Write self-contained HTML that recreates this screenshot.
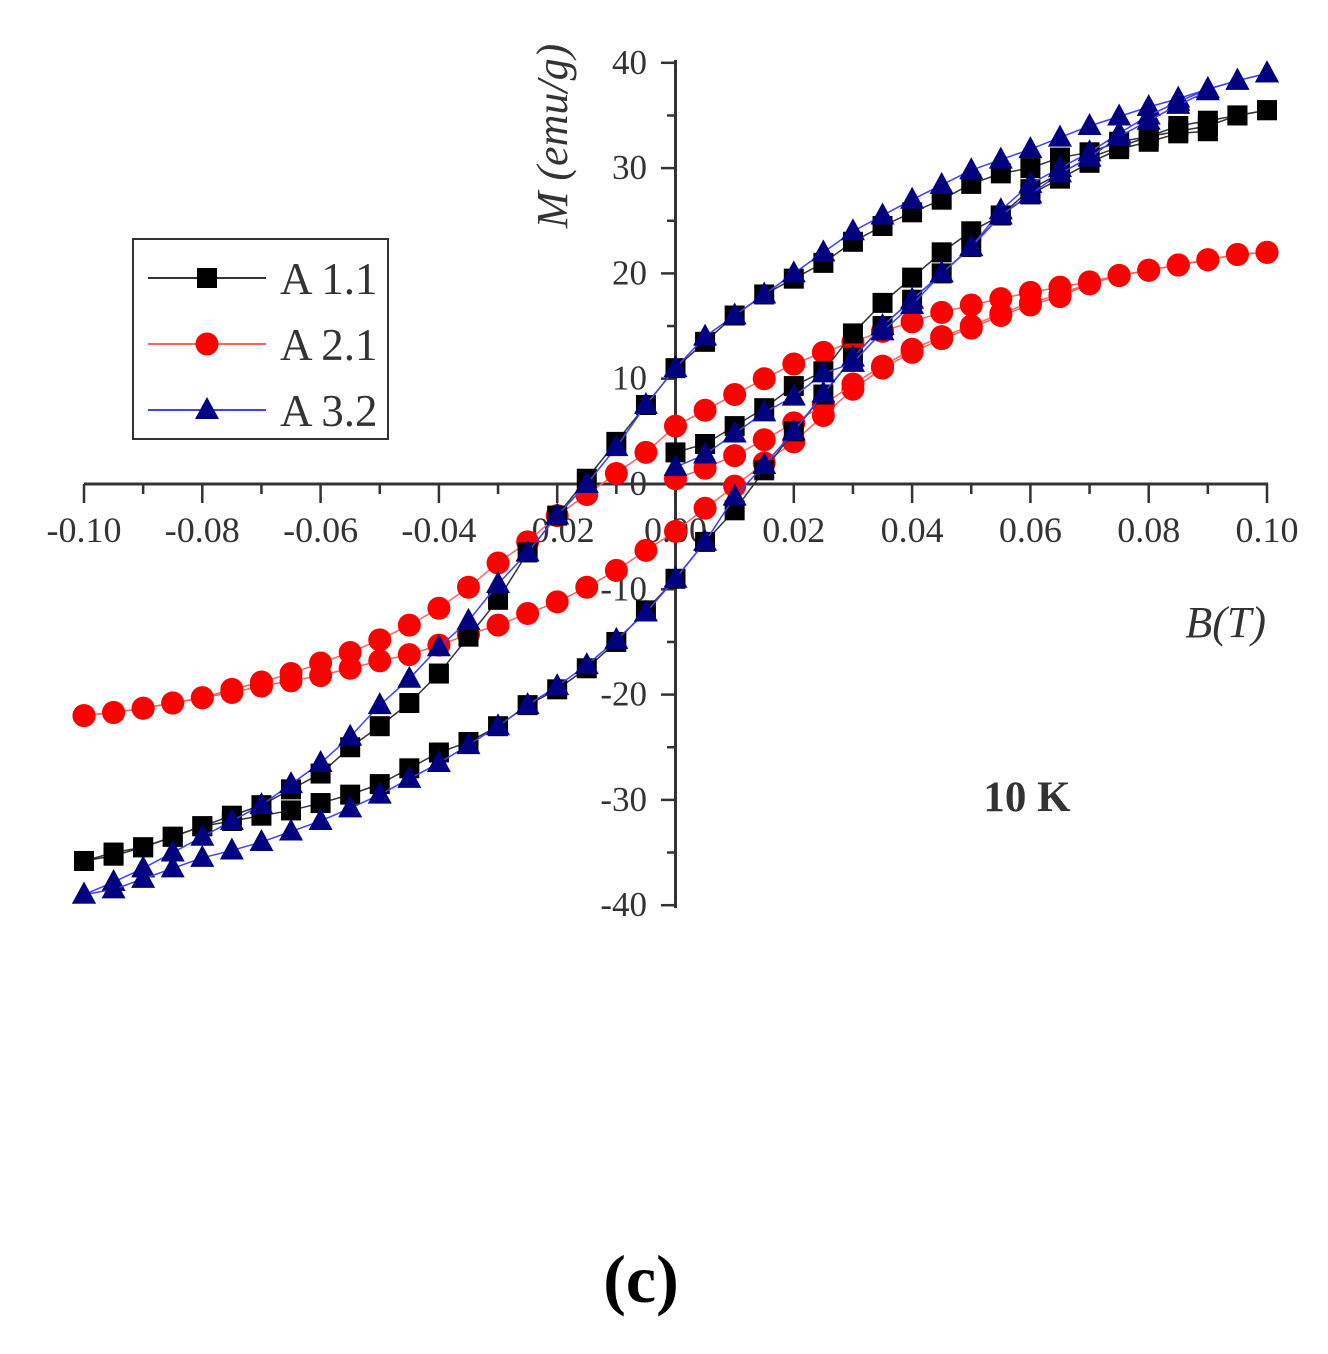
<!DOCTYPE html>
<html><head><meta charset="utf-8"><style>
body{margin:0;background:#fff}
svg text{font-family:"Liberation Serif",serif;fill:#333}
</style></head><body>
<svg width="1328" height="1349" id="chart">
</svg>
<script>
const xUpper=[0.1,0.095,0.09,0.085,0.08,0.075,0.07,0.065,0.06,0.055,0.05,0.045,0.04,0.035,0.03,0.025,0.02,0.015,0.01,0.005,0,-0.005,-0.01,-0.015,-0.02,-0.025,-0.03,-0.035,-0.04,-0.045,-0.05,-0.055,-0.06,-0.065,-0.07,-0.075,-0.08,-0.085,-0.09,-0.095,-0.1];
const a11Upper=[35.5,35,34.5,34,33,32.5,31.5,31,30,29.5,28.5,27,25.8,24.5,23,21,19.5,18,16,13.5,11,7.5,4,0.5,-3,-6.5,-11,-14.5,-18,-20.8,-23,-25,-27.5,-29,-30.5,-31.5,-32.5,-33.5,-34.5,-35,-35.8];
const a21Upper=[22,21.8,21.3,20.8,20.3,19.8,19.2,18.7,18.2,17.6,17,16.3,15.4,14.5,13.5,12.5,11.4,10,8.5,7,5.5,3,1,-1,-3,-5.5,-7.5,-9.8,-11.8,-13.4,-14.8,-16,-17,-18,-18.8,-19.5,-20.3,-20.8,-21.3,-21.7,-22];
const a32Upper=[39,38.3,37.5,36.6,35.8,34.9,34,32.9,31.8,30.8,29.8,28.4,27,25.5,24,22,20,18,16,14,11,7.5,3.5,0,-3,-6.5,-9.5,-13,-15.5,-18.5,-21,-24,-26.5,-28.5,-30.5,-32,-33.5,-35,-36.5,-37.8,-39];
const xLower=[-0.1,-0.095,-0.09,-0.085,-0.08,-0.075,-0.07,-0.065,-0.06,-0.055,-0.05,-0.045,-0.04,-0.035,-0.03,-0.025,-0.02,-0.015,-0.01,-0.005,0,0.005,0.01,0.015,0.02,0.025,0.03,0.035,0.04,0.045,0.05,0.055,0.06,0.065,0.07,0.075,0.08,0.085,0.09,0.095,0.1];
const a11Lower=[-35.8,-35.3,-34.5,-33.5,-32.5,-32,-31.5,-31,-30.3,-29.5,-28.5,-27,-25.5,-24.5,-23,-21,-19.5,-17.5,-15,-12,-9,-5.5,-2.5,1.3,5,8.5,12,15,17.5,20,22.5,25.5,28,29.5,31,32,33,33.5,34,35,35.5];
const a21Lower=[-22,-21.7,-21.3,-20.8,-20.3,-19.8,-19.2,-18.7,-18.2,-17.5,-16.8,-16.2,-15.3,-14.3,-13.4,-12.3,-11.2,-9.8,-8.2,-6.3,-4.5,-2.3,-0.2,2,4,6.5,9,11,12.5,13.8,14.8,16,17,17.8,19,19.8,20.3,20.8,21.3,21.8,22];
const a32Lower=[-39,-38.5,-37.5,-36.5,-35.5,-34.8,-34,-33,-32,-30.8,-29.5,-28,-26.5,-24.8,-23,-21,-19.2,-17.2,-14.8,-12.2,-9,-5.5,-1.2,1.8,5,8.6,12,15,17.5,20,22.5,26,28.5,30,31.5,33.3,35,36.3,37.5,38.3,39];
const xInit=[0,0.005,0.01,0.015,0.02,0.025,0.03,0.035,0.04,0.045,0.05,0.055,0.06,0.065,0.07,0.075,0.08,0.085,0.09];
const a11Init=[3,3.8,5.5,7.2,9.3,10.7,14.3,17.2,19.6,22,24,25.5,27.5,29,30.5,31.8,32.5,33.3,33.5];
const a21Init=[0.5,1.5,2.7,4.2,5.8,7.5,9.5,11.2,12.8,14,15,16.2,17.2,18,19.1,19.8,20.3,20.8,21.3];
const a32Init=[1.6,2.8,4.8,6.8,8.3,10.5,11.5,14.5,17,20,22.5,25.5,27.5,29.5,31,33,34.5,36,37.3];
const xTicks=[-0.10,-0.08,-0.06,-0.04,-0.02,0.00,0.02,0.04,0.06,0.08,0.10];
const xTickLabels=["-0.10","-0.08","-0.06","-0.04","-0.02","0.00","0.02","0.04","0.06","0.08","0.10"];
const yTicks=[-40,-30,-20,-10,0,10,20,30,40];
const yTickLabels=["-40","-30","-20","-10","0","10","20","30","40"];

const NS="http://www.w3.org/2000/svg";
const svg=document.getElementById('chart');
const X=v=>675.5+(v/0.1)*591.5;
const Y=v=>484-v*10.53;
function mk(tag,attrs,parent){const e=document.createElementNS(NS,tag);for(const k in attrs)e.setAttribute(k,attrs[k]);(parent||svg).appendChild(e);return e;}

let ax=mk('line',{x1:84,y1:484,x2:1268,y2:484,stroke:'#333','stroke-width':3});


let ay=mk('line',{x1:675.5,y1:60,x2:675.5,y2:908,stroke:'#333','stroke-width':3});


for(let i=0;i<=20;i++){const v=-0.1+i*0.01;mk('line',{x1:X(v),y1:484,x2:X(v),y2:i%2?494:503,stroke:'#333','stroke-width':2.5});}
xTicks.forEach((v,i)=>{const t=mk('text',{x:X(v),y:542,'text-anchor':'middle','font-size':36});t.textContent=xTickLabels[i];

});
for(let i=0;i<=16;i++){const v=-40+i*5;mk('line',{x1:i%2?667:661,y1:Y(v),x2:675.5,y2:Y(v),stroke:'#333','stroke-width':2.5});}
yTicks.forEach((v,i)=>{const t=mk('text',{x:647,y:Y(v)+11,'text-anchor':'end','font-size':35});t.textContent=yTickLabels[i];

});

function series(xs,ys,color,lineColor,marker,name){
  const g=mk('g',{});
  
  
  mk('polyline',{points:xs.map((x,i)=>X(x)+','+Y(ys[i])).join(' '),fill:'none',stroke:lineColor,'stroke-width':1.5},g);
  xs.forEach((x,i)=>drawMarker(g,X(x),Y(ys[i]),marker,color));
}
function drawMarker(g,cx,cy,m,c){
  let e;
  if(m==='sq')e=mk('rect',{x:cx-10,y:cy-10,width:20,height:20,fill:c},g);
  else if(m==='ci')e=mk('circle',{cx:cx,cy:cy,r:11.5,fill:c},g);
  else e=mk('polygon',{points:`${cx},${cy-13} ${cx+12},${cy+9} ${cx-12},${cy+9}`,fill:c},g);
  
  
}
series(xUpper,a21Upper,'#ff0000','#ff6060','ci','a21-upper');
series(xLower,a21Lower,'#ff0000','#ff6060','ci','a21-lower');
series(xInit,a21Init,'#ff0000','#ff6060','ci','a21-initial');
series(xUpper,a11Upper,'#000','#333','sq','a11-upper');
series(xLower,a11Lower,'#000','#333','sq','a11-lower');
series(xInit,a11Init,'#000','#333','sq','a11-initial');
series(xUpper,a32Upper,'#000080','#4040ff','tr','a32-upper');
series(xLower,a32Lower,'#000080','#4040ff','tr','a32-lower');
series(xInit,a32Init,'#000080','#4040ff','tr','a32-initial');

const lg=mk('g',{});


mk('rect',{x:133,y:239,width:255,height:200,fill:'#fff',stroke:'#333','stroke-width':2},lg);
const leg=[['A 1.1','#000','#333','sq'],['A 2.1','#ff0000','#ff6060','ci'],['A 3.2','#000080','#4040ff','tr']];
leg.forEach((l,i)=>{const y=278+i*66;
  mk('line',{x1:148,y1:y,x2:266,y2:y,stroke:l[2],'stroke-width':2},lg);
  drawMarker(lg,207,y,l[3],l[1]);
  const t=mk('text',{x:280,y:y+16,'font-size':45},lg);t.textContent=l[0];
  
  });

const yl=mk('text',{x:0,y:0,'font-size':44,'font-style':'italic',transform:'translate(567,136) rotate(-90)','text-anchor':'middle'});
yl.textContent='M (emu/g)';


const xl=mk('text',{x:1266,y:637,'font-size':44,'font-style':'italic','text-anchor':'end'});
xl.textContent='B(T)';


const tk=mk('text',{x:1027,y:811,'font-size':43,'font-weight':'bold','text-anchor':'middle'});
tk.textContent='10 K';


const pc=mk('text',{x:641,y:1302,'font-size':68,'font-weight':'bold','text-anchor':'middle'});
pc.textContent='(c)';
pc.style.fill='#000';


</script>
</body></html>
